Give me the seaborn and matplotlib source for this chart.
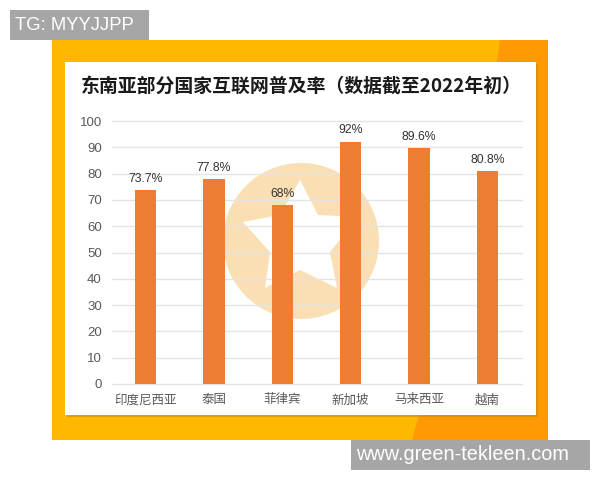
#!/usr/bin/env python3
"""Internet penetration bar chart on an orange card."""
import matplotlib
matplotlib.use("Agg")
import matplotlib.pyplot as plt
from matplotlib.patches import Circle, Polygon, Rectangle
import pandas as pd
import seaborn as sns

countries = ["印度尼西亚", "泰国", "菲律宾", "新加坡", "马来西亚", "越南"]
rates = [73.7, 77.8, 68, 92, 89.6, 80.8]
labels = ["73.7%", "77.8%", "68%", "92%", "89.6%", "80.8%"]
yticks = list(range(0, 101, 10))
title = "东南亚部分国家互联网普及率（数据截至2022年初）"

W, H = 600, 480

sns.set_theme(style="white")
plt.rcParams["font.family"] = ["Liberation Sans", "Noto Sans CJK SC"]

fig = plt.figure(figsize=(W / 100, H / 100), dpi=100, facecolor="white")

# background layer in pixel coords, y pointing down
bg = fig.add_axes([0, 0, 1, 1])
bg.set_xlim(0, W)
bg.set_ylim(H, 0)
bg.axis("off")
bg.add_patch(Rectangle((52, 40), 496, 400, fc="#FFB800", ec="none"))
bg.add_patch(Polygon([(500, 40), (548, 40), (548, 440), (412, 440), (420, 410), (497, 62)],
                     fc="#FF9A05", ec="none"))
bg.add_patch(Rectangle((67, 64), 471, 353, fc="#C98A10", ec="none", alpha=0.6))
bg.add_patch(Rectangle((65, 62), 471, 353, fc="white", ec="none"))
bg.add_patch(Circle((301, 241), 78, fc="#FBDFB4", ec="none"))
bg.add_patch(Polygon([(300, 180), (318, 215), (358, 217), (330, 252), (337, 288),
                      (300, 270), (265, 288), (270, 252), (243, 222), (280, 215)],
                     fc="white", ec="none"))
bg.add_patch(Rectangle((10, 10), 139, 30, fc="#A6A6A6", ec="none", zorder=5))
bg.add_patch(Rectangle((351, 440), 239, 30, fc="#A6A6A6", ec="none", zorder=5))
bg.text(15, 26, "TG: MYYJJPP", color="white", fontsize=13.3, va="center", ha="left", zorder=6)
bg.text(356, 454, "www.green-tekleen.com", color="white", fontsize=14.3, va="center", ha="left", zorder=6)
bg.text(81, 86, title, color="#1A1A1A", fontsize=13.6, fontweight="bold", va="center", ha="left",
        family=["Noto Sans CJK SC", "DejaVu Sans"])

# chart axes
ax = fig.add_axes([111.5 / W, 1 - 384 / H, 410 / W, 263 / H])
ax.patch.set_alpha(0)
df = pd.DataFrame({"country": countries, "rate": rates})
sns.barplot(data=df, x="country", y="rate", color="#ED7D31", saturation=1, width=0.31,
            linewidth=0, ax=ax, zorder=3)
ax.set_xlim(-0.5, 5.5)
ax.set_ylim(0, 100)
ax.set_yticks(yticks)
ax.set_xlabel("")
ax.set_ylabel("")
ax.grid(axis="y", color="#E4E4E4", lw=1)
ax.set_axisbelow(True)
for line in ax.get_ygridlines():
    line.set_clip_on(False)
sns.despine(ax=ax, left=True, bottom=True)
ax.tick_params(axis="both", length=0, labelcolor="#595959")
ax.tick_params(axis="x", pad=14, labelsize=9)
ax.tick_params(axis="y", pad=7, labelsize=9.5)
# baseline alignment keeps the CJK labels level with each other
for tick_label in ax.get_xticklabels():
    tick_label.set_verticalalignment("baseline")
    tick_label.set_family(["Noto Sans CJK SC", "DejaVu Sans"])
ax.bar_label(ax.containers[0], labels=labels, padding=4, fontsize=8.8, color="#333333")

fig.savefig("out.png", dpi=100)
